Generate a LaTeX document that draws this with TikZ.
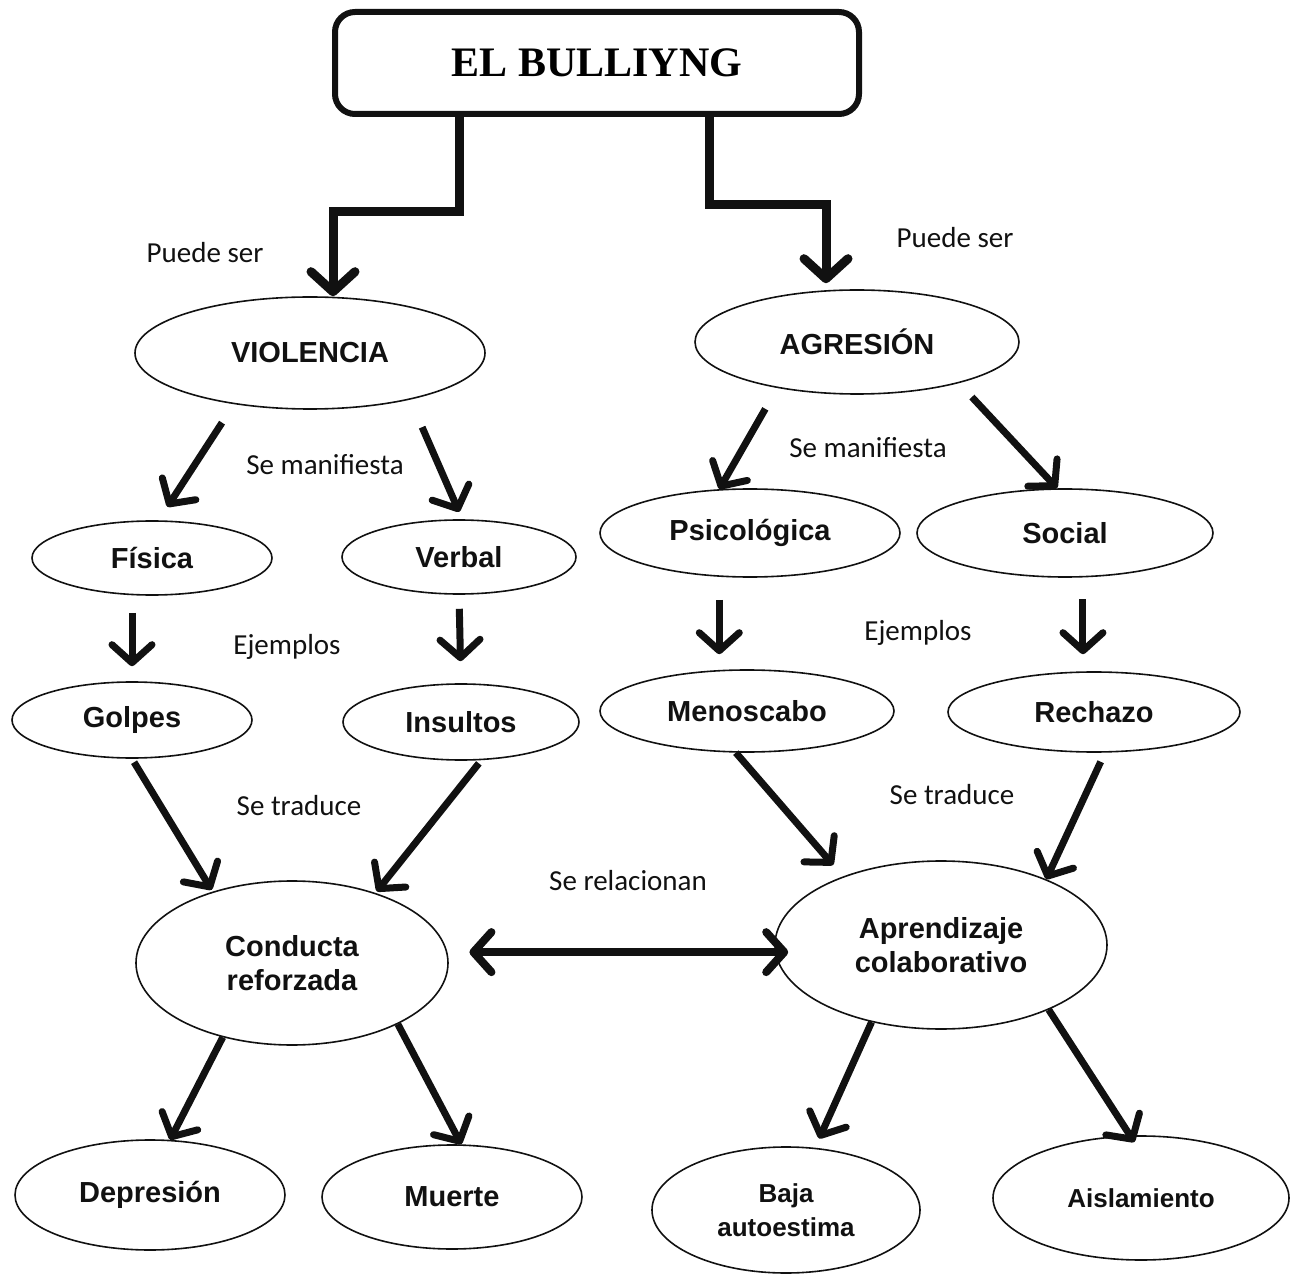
\documentclass[tikz,border=0pt]{standalone}
\usepackage{fontspec}
\setmainfont{Liberation Sans}
\newfontfamily\cuefont{Carlito}
\newfontfamily\headfont{Liberation Serif}
\usetikzlibrary{arrows.meta,shapes.geometric}
\definecolor{ink}{HTML}{111111}

\begin{document}
\begin{tikzpicture}[
  x=0.5pt, y=-0.5pt,
  concept/.style={ellipse, draw=ink, line width=0.8pt, inner sep=0pt, align=center,
    text=ink, font=\fontsize{14.5}{17}\selectfont\bfseries},
  cue/.style={font=\cuefont\fontsize{14.5}{17}\selectfont, text=ink},
  flow/.style={draw=ink, line width=3.5pt, -{Straight Barb[length=9pt,width=20pt,round]}},
  bigflow/.style={draw=ink, line width=4.5pt, -{Straight Barb[length=10pt,width=22pt,round]}},
  relflow/.style={draw=ink, line width=4pt,
    {Straight Barb[length=9pt,width=20pt,round]}-{Straight Barb[length=9pt,width=20pt,round]}},
]
\useasboundingbox (0,0) rectangle (1302,1278);

% Title
\node[draw=ink, line width=3pt, rounded corners=10pt, minimum width=262pt, minimum height=51pt,
  font=\headfont\fontsize{21}{24}\selectfont\bfseries] (title) at (597,63) {EL BULLIYNG};

% First level
\node[concept, minimum width=175pt, minimum height=56pt] (viol) at (310,353) {VIOLENCIA};
\node[concept, minimum width=162pt, minimum height=52pt] (agr) at (857,342) {AGRESIÓN};

% Kinds
\node[concept, minimum width=120pt, minimum height=37pt] (fis) at (152,558) {Física};
\node[concept, minimum width=117pt, minimum height=37pt] (verb) at (459,557) {Verbal};
\node[concept, minimum width=150pt, minimum height=44pt] (psi) at (750,533) {Psicológica};
\node[concept, minimum width=148pt, minimum height=44pt] (soc) at (1065,533) {Social};

% Examples
\node[concept, minimum width=120pt, minimum height=38pt] (golp) at (132,720) {Golpes};
\node[concept, minimum width=118pt, minimum height=38pt] (ins) at (461,722) {Insultos};
\node[concept, minimum width=147pt, minimum height=41pt] (men) at (747,711) {Menoscabo};
\node[concept, minimum width=146pt, minimum height=40pt] (rech) at (1094,712) {Rechazo};

% Results
\node[concept, minimum width=156pt, minimum height=82pt] (cond) at (292,963) {Conducta\\reforzada};
\node[concept, minimum width=166pt, minimum height=84pt] (apr) at (941,945) {Aprendizaje\\colaborativo};

% Consequences
\node[concept, minimum width=135pt, minimum height=55pt] (dep) at (150,1195) {Depresión};
\node[concept, minimum width=130pt, minimum height=52pt] (mue) at (452,1197) {Muerte};
\node[concept, minimum width=134pt, minimum height=63pt, font=\fontsize{13}{17}\selectfont\bfseries]
  (baja) at (786,1210) {Baja\\autoestima};
\node[concept, minimum width=148pt, minimum height=62pt, font=\fontsize{13}{17}\selectfont\bfseries]
  (ais) at (1141,1198) {Aislamiento};

% Link words
\node[cue] (puedeL) at (205,253) {Puede ser};
\node[cue] (puedeR) at (955,238) {Puede ser};
\node[cue] (maniL) at (325,465) {Se manifiesta};
\node[cue] (maniR) at (868,448) {Se manifiesta};
\node[cue] (ejemL) at (287,647) {Ejemplos};
\node[cue] (ejemR) at (918,633) {Ejemplos};
\node[cue] (tradL) at (299,806) {Se traduce};
\node[cue] (tradR) at (952,795) {Se traduce};
\node[cue] (rel) at (628,881) {Se relacionan};

% Elbow arrows from the title
\draw[bigflow] ([xshift=-69pt]title.south) -- ++(0,95) -| ([xshift=11.5pt]viol.north);
\draw[bigflow, shorten >=3pt] ([xshift=56pt]title.south) -- ++(0,88) -| ([xshift=-15.5pt]agr.north);

% Left branch
\draw[flow, shorten <=11pt, shorten >=8pt] (viol.214) -- (fis.80);
\draw[flow, shorten <=15pt, shorten >=4pt] (viol.-25) -- (verb.85);
\draw[flow, shorten <=8.5pt, shorten >=7.5pt] (fis.south -| golp.north) -- (golp.north);
\draw[flow, shorten <=7pt, shorten >=11pt] (verb.south) -- (ins.north);
\draw[flow, shorten <=2pt, shorten >=1pt] (golp.south) -- (cond.138);
\draw[flow, shorten <=2pt, shorten >=1pt] (ins.-62) -- (cond.40);
\draw[flow] (cond.-133) -- (dep.70);
\draw[flow] (cond.-30) -- (mue.80);

% Right branch
\draw[flow, shorten <=12pt] (agr.-150) -- (psi.125);
\draw[flow, shorten <=9.5pt] (agr.-22) -- (soc.100);
\draw[flow, shorten <=11.5pt, shorten >=7.5pt] (psi.-125) -- (psi.-125 |- men.north);
\draw[flow, shorten <=11pt, shorten >=8.5pt] (soc.-68) -- (soc.-68 |- rech.north);
\draw[flow, shorten >=7.5pt] (men.-105) -- (apr.145);
\draw[flow, shorten <=5pt] (rech.-75) -- (apr.32);
\draw[flow, shorten >=5pt] (apr.-132) -- (baja.65);
\draw[flow, shorten >=-4pt] (apr.-31) -- (ais.100);

% Relation between both results
\draw[relflow, shorten <=11pt, shorten >=-7pt] (cond.4) -- (cond.4 -| apr.west);

\end{tikzpicture}
\end{document}
